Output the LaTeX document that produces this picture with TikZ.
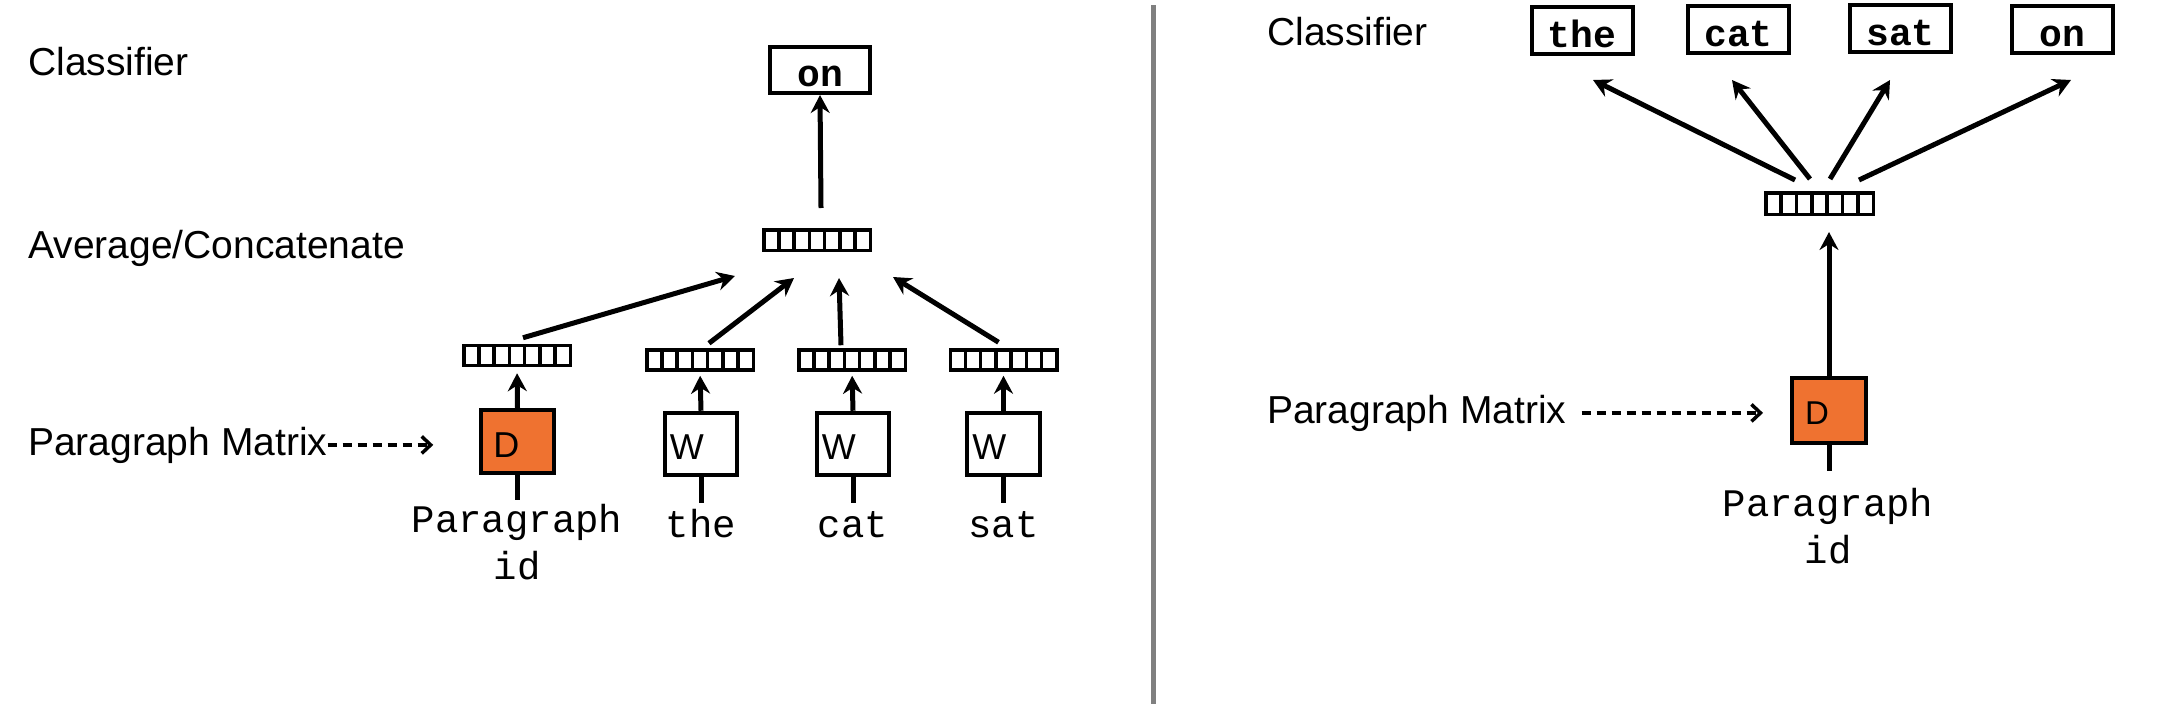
\documentclass[tikz,border=0pt]{standalone}
\usepackage{fontspec}
\setmainfont{Liberation Sans}
\newfontfamily\monof{Liberation Mono}
\usetikzlibrary{arrows.meta,calc}
\definecolor{dorange}{RGB}{239,114,48}
\definecolor{divgray}{RGB}{128,128,128}
\tikzset{
 lbl/.style={anchor=base west, inner sep=0pt, font=\fontsize{39}{45}\selectfont},
 word/.style={anchor=base, inner sep=0pt, align=center, font=\monof\fontsize{39}{47}\selectfont},
 vect/.style={draw, line width=3.5pt, minimum width=106.5pt, minimum height=20pt, inner sep=0pt,
   path picture={\foreach \i in {1,...,6}{\draw[line width=3.5pt] ($(path picture bounding box.south west)!\i/7!(path picture bounding box.south east)$) -- ($(path picture bounding box.north west)!\i/7!(path picture bounding box.north east)$);}}},
 embw/.style={draw, line width=4pt, minimum width=72.5pt, minimum height=62.5pt, inner xsep=5pt, inner ysep=0pt, text width=62.5pt, align=left, text height=31pt, text depth=0pt, font=\fontsize{36}{42}\selectfont},
 embd/.style={embw, fill=dorange, inner xsep=12pt, text width=48.5pt},
 cls/.style={draw, line width=4pt, minimum width=100pt, minimum height=46pt, inner sep=0pt, text height=33pt, text depth=0pt, font=\monof\bfseries\fontsize{38}{44}\selectfont},
 arr/.style={line width=5pt, -{Stealth[length=18pt,width=19pt,inset=6pt]}},
 stem/.style={line width=5pt},
 dasharr/.style={line width=3.5pt, dash pattern=on 9pt off 6pt, -{Straight Barb[length=9pt,width=17pt,line width=3.5pt]}},
}
\begin{document}
\begin{tikzpicture}[x=1pt,y=-1pt]
\useasboundingbox[fill=white] (0,0) rectangle (2178,704);
% divider
\draw[divgray, line width=5pt] (1153.5,5) -- (1153.5,704);
% ---------- left panel ----------
\node[lbl] (clsL) at (28,75) {Classifier};
\node[lbl] (avgL) at (28,258) {Average/Concatenate};
\node[lbl] (pmL) at (28,455) {Paragraph Matrix};
\node[cls] (onL) at (820,70) {on};
\node[vect, minimum height=20.5pt] (T) at (817,240) {};
\node[vect] (v1) at (517,355.5) {};
\node[vect] (v2) at (700,360) {};
\node[vect] (v3) at (852,360) {};
\node[vect] (v4) at (1003.5,360) {};
\node[embd] (D1) at (517.5,441.5) {D};
\node[embw] (W1) at (701,444) {W};
\node[embw] (W2) at (853,444) {W};
\node[embw] (W3) at (1003.5,444) {W};
\node[word] (p1) at (517,579) {Paragraph\\id};
\node[word] (w1) at (701,537) {the};
\node[word] (w2) at (853,537) {cat};
\node[word] (w3) at (1003.5,537) {sat};
\draw[arr] ($(T.north)+(4,-20)$) -- (onL.south);
\draw[arr] ($(v1.north)+(6,-6)$) -- ($(T.south)+(-82,24)$);
\draw[arr] ($(v2.north)+(9,-5)$) -- ($(T.south)+(-23,26)$);
\draw[arr] ($(v3.north)+(-11,-3)$) -- ($(T.south)+(22,26)$);
\draw[arr] ($(v4.north)+(-5,-6)$) -- ($(T.south)+(76,25)$);
\draw[arr, shorten >=6pt] (D1.north) -- (v1.south);
\draw[arr, shorten >=4pt] (W1.north) -- (v2.south);
\draw[arr, shorten >=4pt] (W2.north) -- (v3.south);
\draw[arr, shorten >=4pt] (W3.north) -- (v4.south);
\draw[stem] (D1.south) -- ++(0,25);
\draw[stem] (W1.south) -- ++(0,26);
\draw[stem] (W2.south) -- ++(0,26);
\draw[stem] (W3.south) -- ++(0,26);
\draw[dasharr, shorten >=46pt] (pmL.east) -- (pmL.east -| D1.west);
% ---------- right panel ----------
\node[lbl] (clsR) at (1267,45) {Classifier};
\node[lbl] (pmR) at (1267,423) {Paragraph Matrix};
\node[cls, minimum width=101pt, minimum height=47pt] (c1) at (1582,30.5) {the};
\node[cls, minimum width=101pt, minimum height=47pt] (c2) at (1738.5,29.5) {cat};
\node[cls, minimum width=101pt, minimum height=47pt] (c3) at (1900.5,28.5) {sat};
\node[cls, minimum width=101pt, minimum height=47pt] (c4) at (2062.5,29.5) {on};
\node[vect, minimum width=107.5pt, minimum height=21.5pt] (R) at (1819.5,203.5) {};
\node[embd, minimum width=74pt, minimum height=65pt, font=\fontsize{33}{39}\selectfont, text height=27pt, inner xsep=13pt, text width=48pt] (D2) at (1829,410.5) {D};
\node[word] (p2) at (1828,563) {Paragraph\\id};
\draw[arr] ($(R.north)+(-24.5,-11)$) -- ($(c1.south)+(11,24)$);
\draw[arr] ($(R.north)+(-9.5,-12)$) -- ($(c2.south)+(-6.5,25)$);
\draw[arr] ($(R.north)+(10.5,-12)$) -- ($(c3.south)+(-10.5,26)$);
\draw[arr] ($(R.north)+(39.5,-11)$) -- ($(c4.south)+(8.5,25)$);
\draw[arr, shorten >=16pt] (D2.north) -- (D2.north |- R.south);
\draw[stem] (D2.south) -- ++(0,26);
\draw[dasharr, shorten <=15pt, shorten >=27pt] (pmR.east) -- (pmR.east -| D2.west);
\end{tikzpicture}
\end{document}
